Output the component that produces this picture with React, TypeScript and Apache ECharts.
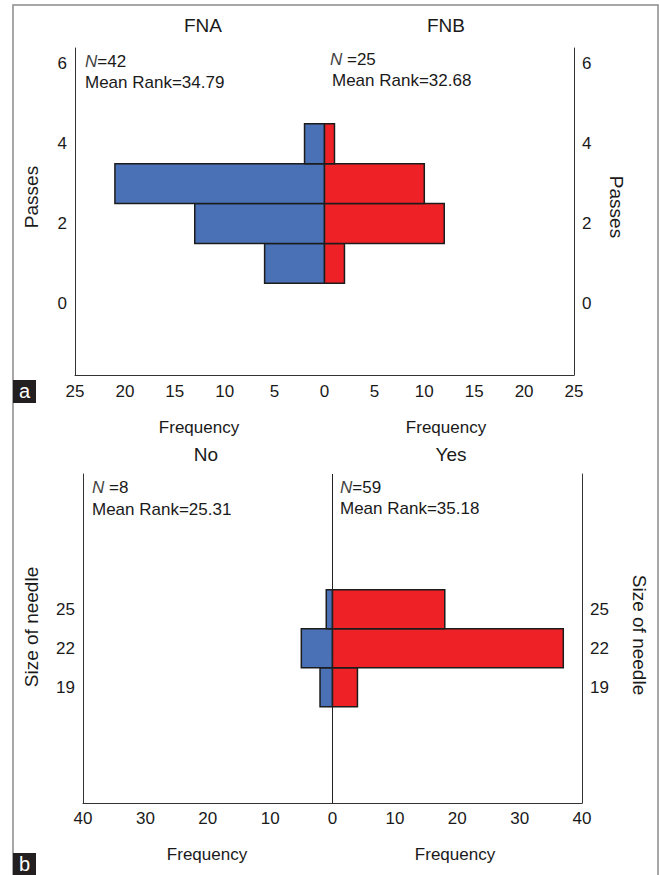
import React, { useEffect, useRef } from "react";
import * as echarts from "echarts";

// Panel a: number of passes, FNA vs FNB
const passes = [1, 2, 3, 4];
const fnaCounts = [6, 13, 21, 2];
const fnbCounts = [2, 12, 10, 1];
const passTicks = [0, 2, 4, 6];

// Panel b: size of needle, No vs Yes
const needleSizes = [19, 22, 25];
const noCounts = [2, 5, 1];
const yesCounts = [4, 37, 18];
const needleTicks = [19, 22, 25];

const FONT = "'Liberation Sans', Arial, Helvetica, sans-serif";
const BLUE = "#4A71B5";
const RED = "#EE2226";
const TXT = "#1a1a1a";

function makeRender(side: number, half: number, color: string) {
  return (params: any, api: any) => {
    const y = api.value(0);
    const v = api.value(1);
    const p1 = api.coord([0, y + half]);
    const p2 = api.coord([side * v, y - half]);
    return {
      type: "rect",
      shape: {
        x: Math.min(p1[0], p2[0]),
        y: Math.min(p1[1], p2[1]),
        width: Math.abs(p2[0] - p1[0]),
        height: Math.abs(p2[1] - p1[1]),
      },
      style: { fill: color, stroke: "#1c1c1c", lineWidth: 1.5 },
    };
  };
}

function txt(x: number, y: number, text: string, size: number, opts: any = {}) {
  return {
    type: "text",
    x,
    y,
    rotation: opts.rotation || 0,
    style: {
      text,
      fontFamily: FONT,
      fontSize: size,
      fill: opts.fill || TXT,
      align: opts.align || "center",
      verticalAlign: "middle",
      rich: {
        i: { fontStyle: "italic", fontFamily: FONT, fontSize: size, fill: "#444" },
      },
    },
    z: 10,
  };
}

export default function App() {
  const ref = useRef<HTMLDivElement>(null);
  useEffect(() => {
    document.body.style.margin = "0";
    const chart = echarts.init(ref.current!, null, { renderer: "svg" });
    const axisLineStyle = { show: true, onZero: false, lineStyle: { color: "#333", width: 1 } };
    const labelBase = { fontFamily: FONT, fontSize: 17, color: TXT };
    const yBase = (min: number, max: number, ticks: number[], gridIndex: number, position: string) => ({
      type: "value",
      gridIndex,
      position,
      min,
      max,
      axisLine: axisLineStyle,
      axisTick: { show: false },
      splitLine: { show: false },
      axisLabel: { ...labelBase, customValues: ticks, margin: 8 },
    });
    chart.setOption({
      animation: false,
      grid: [
        { left: 75, top: 48, width: 499, height: 327 },
        { left: 83, top: 474, width: 499, height: 329 },
      ],
      xAxis: [
        {
          type: "value",
          gridIndex: 0,
          min: -25,
          max: 25,
          interval: 5,
          axisLine: axisLineStyle,
          axisTick: { show: false },
          splitLine: { show: false },
          axisLabel: { ...labelBase, margin: 8, formatter: (v: number) => String(Math.abs(v)) },
        },
        {
          type: "value",
          gridIndex: 1,
          min: -40,
          max: 40,
          interval: 10,
          axisLine: axisLineStyle,
          axisTick: { show: false },
          splitLine: { show: false },
          axisLabel: { ...labelBase, margin: 7, formatter: (v: number) => String(Math.abs(v)) },
        },
      ],
      yAxis: [
        yBase(-1.8, 6.4, passTicks, 0, "left"),
        yBase(-1.8, 6.4, passTicks, 0, "right"),
        yBase(10.1, 35.4, needleTicks, 1, "left"),
        yBase(10.1, 35.4, needleTicks, 1, "right"),
      ],
      series: [
        {
          type: "custom",
          name: "FNA",
          xAxisIndex: 0,
          yAxisIndex: 0,
          renderItem: makeRender(-1, 0.5, BLUE),
          encode: { y: 0, x: 1 },
          data: passes.map((p, i) => [p, fnaCounts[i]]),
        },
        {
          type: "custom",
          name: "FNB",
          xAxisIndex: 0,
          yAxisIndex: 0,
          renderItem: makeRender(1, 0.5, RED),
          encode: { y: 0, x: 1 },
          data: passes.map((p, i) => [p, fnbCounts[i]]),
        },
        {
          type: "custom",
          name: "No",
          xAxisIndex: 1,
          yAxisIndex: 2,
          renderItem: makeRender(-1, 1.5, BLUE),
          encode: { y: 0, x: 1 },
          data: needleSizes.map((s, i) => [s, noCounts[i]]),
        },
        {
          type: "custom",
          name: "Yes",
          xAxisIndex: 1,
          yAxisIndex: 2,
          renderItem: makeRender(1, 1.5, RED),
          encode: { y: 0, x: 1 },
          data: needleSizes.map((s, i) => [s, yesCounts[i]]),
          markLine: {
            silent: true,
            symbol: "none",
            label: { show: false },
            lineStyle: { color: "#222", width: 1, type: "solid" },
            data: [{ xAxis: 0 }],
          },
        },
      ],
      graphic: [
        {
          type: "polyline",
          shape: { points: [[13, 875], [13, 5], [658, 5], [658, 875]] },
          style: { stroke: "#8a8a8a", lineWidth: 1.5, fill: null },
        },
        // Panel a texts
        txt(203, 25, "FNA", 19),
        txt(446, 25, "FNB", 19),
        txt(85, 61, "{i|N}=42", 17, { align: "left" }),
        txt(85, 82, "Mean Rank=34.79", 17, { align: "left" }),
        txt(330, 59, "{i|N} =25", 17, { align: "left" }),
        txt(332, 80, "Mean Rank=32.68", 17, { align: "left" }),
        txt(199, 427, "Frequency", 17),
        txt(446, 427, "Frequency", 17),
        txt(31, 197, "Passes", 19, { rotation: Math.PI / 2 }),
        txt(616, 207, "Passes", 19, { rotation: -Math.PI / 2 }),
        { type: "rect", shape: { x: 13, y: 380, width: 23, height: 23 }, style: { fill: "#231f20" } },
        txt(24.5, 391, "a", 20, { fill: "#ffffff" }),
        // Panel b texts
        txt(206, 454, "No", 19),
        txt(451, 454, "Yes", 19),
        txt(92, 487, "{i|N} =8", 17, { align: "left" }),
        txt(92, 509, "Mean Rank=25.31", 17, { align: "left" }),
        txt(340, 487, "{i|N}=59", 17, { align: "left" }),
        txt(340, 508, "Mean Rank=35.18", 17, { align: "left" }),
        txt(207, 854, "Frequency", 17),
        txt(455, 854, "Frequency", 17),
        txt(31, 627, "Size of needle", 19, { rotation: Math.PI / 2 }),
        txt(639, 635, "Size of needle", 19, { rotation: -Math.PI / 2 }),
        { type: "rect", shape: { x: 13, y: 853, width: 23, height: 22 }, style: { fill: "#231f20" } },
        txt(24.5, 864, "b", 20, { fill: "#ffffff" }),
      ],
    });
    return () => chart.dispose();
  }, []);
  return <div ref={ref} style={{ width: 659, height: 875 }} />;
}
